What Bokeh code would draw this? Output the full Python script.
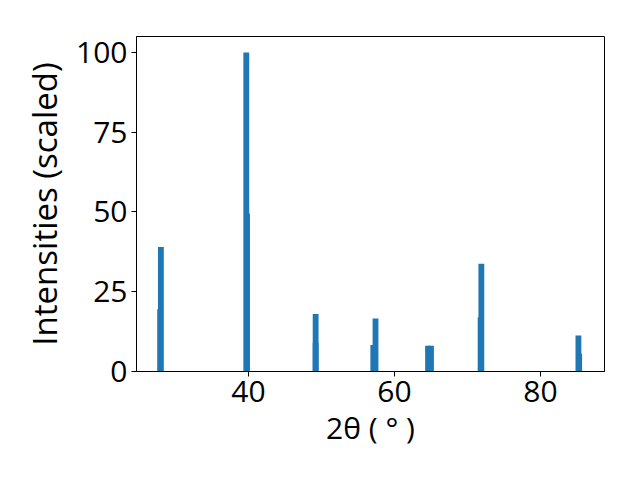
from bokeh.plotting import figure
from bokeh.models import Range1d, FixedTicker
from bokeh.embed import file_html
from bokeh.resources import INLINE

# Peak data (2theta in degrees, scaled intensity)
ka1_x = [28.0, 39.7, 49.2, 57.4, 65.0, 71.9, 85.2]
ka1_h = [39.0, 100.0, 18.0, 16.6, 8.1, 33.8, 11.3]
ka2_x = [27.9, 39.8, 49.2, 57.1, 64.6, 71.8, 85.3]
ka2_h = [19.5, 49.5, 9.0, 8.3, 8.1, 17.0, 5.6]
bar_width = 0.8
x_ticks = [40, 60, 80]
y_ticks = [0, 25, 50, 75, 100]

FONT = "Open Sans"
BLUE = "#1f77b4"

p = figure(width=632, height=472, output_backend="svg", toolbar_location=None,
           x_range=Range1d(24.66, 88.77), y_range=Range1d(0, 105),
           min_border_left=136, min_border_right=28, min_border_top=36,
           min_border_bottom=101)

p.vbar(x=ka2_x, top=ka2_h, width=bar_width, color=BLUE, line_color=None)
p.vbar(x=ka1_x, top=ka1_h, width=bar_width, color=BLUE, line_color=None)

p.grid.visible = False
p.outline_line_color = "black"
p.outline_line_width = 1
p.outline_line_alpha = 1

p.xaxis.ticker = FixedTicker(ticks=x_ticks)
p.yaxis.ticker = FixedTicker(ticks=y_ticks)
for ax in (p.xaxis, p.yaxis):
    ax.minor_tick_line_color = None
    ax.major_tick_out = 5
    ax.major_tick_in = 0
    ax.axis_line_color = "black"
    ax.major_tick_line_color = "black"
    ax.major_label_text_font = FONT
    ax.major_label_text_font_size = "30px"
    ax.major_label_text_color = "black"
    ax.axis_label_text_font = FONT
    ax.axis_label_text_font_size = "30px"
    ax.axis_label_text_font_style = "normal"
    ax.axis_label_text_color = "black"
    ax.major_label_standoff = 4

p.xaxis.axis_label = "2θ ( ° )"
p.yaxis.axis_label = "Intensities (scaled)"
p.yaxis.axis_label_text_font_size = "33px"
p.xaxis.axis_label_standoff = 2
p.yaxis.axis_label_standoff = 6

open("out.html", "w").write(file_html(p, INLINE))
